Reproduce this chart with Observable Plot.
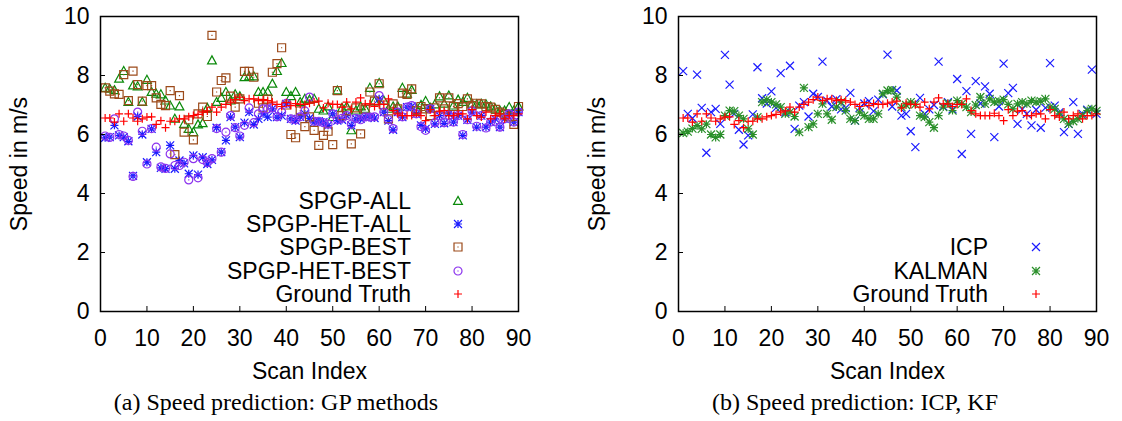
<!DOCTYPE html>
<html>
<head>
<meta charset="utf-8">
<script src="https://cdn.jsdelivr.net/npm/d3@7"></script>
<script src="https://cdn.jsdelivr.net/npm/@observablehq/plot@0.6"></script>
<style>
  body { margin: 0; background: #fff; width: 1122px; height: 421px; position: relative; overflow: hidden;
         font-family: "Liberation Sans", Arial, Helvetica, sans-serif; }
  .panel { position: absolute; top: 0; }
  .caption { position: absolute; font-family: "Liberation Serif", "Times New Roman", serif; font-size: 24px;
             white-space: nowrap; transform: translate(-50%, -50%); line-height: 1; }
  .lg-label { position: absolute; font-size: 23px; line-height: 1; white-space: nowrap; transform: translateY(-50%); }
  .lg-mark { position: absolute; overflow: visible; }
</style>
</head>
<body>
<script>
// Scan indices and speeds (m/s)
const scanIndex = d3.range(1, 91);

const groundTruth = [
  6.56, 6.56, 6.42, 6.70, 6.45, 6.70, 6.56, 6.45, 6.53, 6.59,
  6.60, 6.34, 6.47, 6.23, 6.45, 6.45, 6.53, 6.53, 6.60, 6.64,
  6.68, 6.76, 6.80, 6.93, 6.76, 6.93, 7.02, 7.10, 7.18, 7.27,
  7.15, 7.21, 7.21, 7.15, 7.18, 7.15, 7.10, 7.02, 6.95, 7.08,
  6.98, 7.05, 7.02, 7.02, 7.06, 7.10, 7.13, 6.90, 7.06, 7.02,
  7.02, 6.93, 7.10, 6.87, 7.10, 7.24, 7.04, 7.04, 6.95, 7.02,
  7.02, 7.21, 6.81, 6.70, 6.64, 6.64, 6.64, 6.72, 6.64, 6.47,
  6.84, 6.64, 6.79, 6.81, 6.64, 6.64, 6.70, 6.70, 6.53, 6.84,
  6.64, 6.59, 6.76, 6.53, 6.64, 6.70, 6.53, 6.64, 6.64, 6.70
];

const spgpAll = [
  7.58, 7.55, 7.50, 7.89, 8.15, 7.10, 7.66, 7.63, 7.10, 7.85,
  7.44, 7.38, 7.36, 7.15, 6.98, 6.53, 6.95, 6.36, 6.19, 6.08,
  6.34, 6.38, 6.90, 8.51, 7.10, 7.24, 7.44, 7.15, 7.36, 7.29,
  7.94, 7.97, 7.97, 7.44, 7.44, 7.44, 7.72, 8.15, 8.42, 7.44,
  7.30, 7.44, 7.10, 7.21, 7.18, 7.21, 6.87, 6.81, 6.95, 6.59,
  7.49, 6.90, 6.95, 6.14, 6.81, 6.95, 6.87, 7.58, 7.13, 7.74,
  7.15, 6.87, 6.95, 6.95, 7.58, 7.38, 7.51, 6.87, 7.00, 7.13,
  6.90, 7.02, 7.29, 7.04, 7.32, 6.98, 7.18, 7.10, 7.24, 7.04,
  7.02, 7.04, 7.02, 6.95, 6.87, 6.81, 6.81, 6.93, 6.81, 6.95
];

const spgpHetAll = [
  5.89, 5.91, 6.31, 5.97, 5.91, 5.77, 4.60, 6.61, 6.00, 5.06,
  6.19, 5.40, 4.87, 4.84, 5.63, 4.84, 5.12, 5.02, 4.67, 5.29,
  4.64, 5.23, 5.00, 5.14, 6.23, 5.40, 5.80, 6.59, 6.25, 5.91,
  6.40, 6.76, 6.34, 6.53, 6.70, 6.59, 6.87, 6.59, 6.64, 7.04,
  6.53, 6.47, 6.60, 6.70, 6.55, 6.42, 6.45, 6.42, 6.31, 6.70,
  6.47, 6.50, 6.64, 6.31, 6.53, 6.53, 6.59, 6.59, 6.56, 7.21,
  6.76, 6.47, 6.16, 6.76, 6.59, 6.93, 6.95, 6.70, 6.31, 6.19,
  6.87, 6.36, 6.64, 6.38, 6.70, 6.42, 6.64, 5.97, 6.50, 6.76,
  6.25, 6.64, 6.25, 6.42, 6.53, 6.25, 6.53, 6.70, 6.42, 6.76
];

const spgpBest = [
  7.58, 7.47, 7.38, 7.36, 8.03, 7.15, 8.15, 7.69, 7.13, 7.66,
  7.66, 7.24, 7.02, 6.98, 7.49, 5.32, 7.32, 6.08, 6.50, 5.82,
  6.70, 6.93, 6.61, 9.36, 7.44, 7.83, 7.92, 7.30, 6.93, 7.21,
  8.14, 8.14, 7.94, 7.06, 6.90, 7.20, 8.11, 8.40, 8.94, 7.00,
  6.00, 5.89, 6.80, 6.27, 6.60, 6.14, 5.63, 5.97, 6.11, 5.66,
  7.49, 6.64, 6.80, 5.68, 6.90, 6.02, 6.85, 7.44, 7.13, 7.72,
  7.00, 6.53, 7.04, 6.87, 7.40, 7.36, 7.55, 6.81, 6.95, 6.87,
  6.64, 6.90, 7.24, 6.87, 7.24, 6.95, 7.05, 6.95, 7.21, 6.98,
  7.06, 7.04, 6.95, 6.93, 6.85, 6.76, 6.70, 6.60, 6.34, 6.95
];

const spgpHetBest = [
  5.95, 5.90, 6.53, 6.00, 5.95, 5.80, 4.58, 6.76, 6.11, 5.00,
  6.20, 5.57, 4.90, 4.85, 5.34, 4.95, 4.95, 5.06, 4.46, 5.18,
  4.53, 5.15, 5.05, 5.18, 6.20, 5.40, 6.08, 6.64, 6.23, 5.95,
  6.31, 6.90, 6.40, 6.70, 6.87, 6.87, 6.90, 6.60, 6.76, 7.06,
  6.53, 6.50, 6.60, 6.80, 7.27, 6.45, 6.45, 6.40, 6.35, 6.70,
  6.50, 6.55, 6.64, 6.35, 6.55, 6.50, 6.60, 6.59, 6.60, 7.32,
  6.76, 6.50, 6.20, 6.76, 6.60, 6.93, 6.98, 6.70, 6.27, 6.14,
  6.87, 6.40, 6.64, 6.40, 6.65, 6.42, 6.64, 6.00, 6.50, 6.80,
  6.28, 6.64, 6.22, 6.42, 6.45, 6.25, 6.53, 6.70, 6.42, 6.76
];

const icp = [
  8.15, 6.70, 6.55, 8.03, 6.90, 5.38, 6.76, 6.87, 6.36, 8.70,
  7.69, 6.70, 6.16, 5.66, 5.97, 6.68, 8.28, 7.23, 7.05, 7.46,
  6.90, 8.08, 6.75, 8.33, 6.19, 6.98, 7.10, 6.61, 7.38, 7.27,
  8.47, 7.15, 6.95, 7.20, 6.85, 6.90, 7.41, 6.47, 6.90, 7.05,
  7.13, 6.79, 7.18, 7.36, 8.71, 6.95, 7.49, 6.64, 6.70, 6.11,
  5.57, 7.24, 6.70, 6.85, 7.00, 8.47, 6.95, 7.10, 6.85, 7.88,
  5.34, 7.47, 6.02, 7.81, 7.05, 7.63, 7.38, 5.91, 6.95, 8.40,
  7.40, 7.58, 6.36, 6.85, 6.70, 6.31, 6.84, 6.23, 6.90, 8.42,
  6.98, 6.75, 6.08, 6.36, 7.10, 6.02, 6.70, 6.84, 8.20, 6.70
];

const kalman = [
  6.05, 6.10, 6.20, 6.30, 6.19, 6.35, 6.00, 5.90, 6.00, 6.64,
  6.81, 6.79, 6.64, 6.53, 6.19, 6.00, 6.59, 7.10, 7.18, 7.10,
  7.02, 6.93, 6.70, 6.76, 6.61, 6.08, 7.58, 6.25, 6.36, 6.70,
  7.04, 6.70, 6.50, 6.93, 7.10, 6.81, 6.53, 6.47, 6.76, 6.64,
  6.53, 6.53, 6.70, 7.38, 7.49, 7.51, 7.27, 6.93, 7.00, 7.10,
  7.02, 6.64, 6.59, 6.42, 6.23, 6.64, 6.93, 7.06, 6.81, 7.15,
  7.04, 6.93, 6.76, 7.00, 7.27, 7.04, 7.21, 7.10, 7.13, 7.18,
  7.02, 6.87, 7.04, 7.10, 7.04, 7.15, 7.10, 7.13, 7.21, 6.93,
  6.87, 6.70, 6.53, 6.36, 6.45, 6.53, 6.64, 6.81, 6.87, 6.80
];

const xTicks = [0, 10, 20, 30, 40, 50, 60, 70, 80, 90];
const yTicks = [0, 2, 4, 6, 8, 10];

// gnuplot-style point symbols; r is the half-size in pixels
const half = size => Math.sqrt(size / Math.PI);
const dotAt = ctx => { ctx.moveTo(-0.6, 0); ctx.lineTo(0.6, 0); };
const gpPlus = { draw(ctx, size) { const r = half(size);
  ctx.moveTo(-r, 0); ctx.lineTo(r, 0); ctx.moveTo(0, -r); ctx.lineTo(0, r); } };
const gpTimes = { draw(ctx, size) { const r = half(size);
  ctx.moveTo(-r, -r); ctx.lineTo(r, r); ctx.moveTo(-r, r); ctx.lineTo(r, -r); } };
const gpStar = { draw(ctx, size) { const r = half(size);
  ctx.moveTo(-r, 0); ctx.lineTo(r, 0); ctx.moveTo(0, -r); ctx.lineTo(0, r);
  ctx.moveTo(-r, -r); ctx.lineTo(r, r); ctx.moveTo(-r, r); ctx.lineTo(r, -r); } };
const gpBox = { draw(ctx, size) { const r = half(size);
  ctx.rect(-r, -r, 2 * r, 2 * r); dotAt(ctx); } };
const gpCircle = { draw(ctx, size) { const r = half(size);
  ctx.moveTo(r, 0); ctx.arc(0, 0, r, 0, 2 * Math.PI); dotAt(ctx); } };
const gpTriangle = { draw(ctx, size) { const r = half(size);
  ctx.moveTo(0, -1.15 * r); ctx.lineTo(1.1 * r, 0.85 * r); ctx.lineTo(-1.1 * r, 0.85 * r); ctx.closePath(); } };

const leftSeries = [
  { label: "SPGP-ALL", values: spgpAll, symbol: gpTriangle, color: "#0a8a0a" },
  { label: "SPGP-HET-ALL", values: spgpHetAll, symbol: gpStar, color: "#1a1aff" },
  { label: "SPGP-BEST", values: spgpBest, symbol: gpBox, color: "#9c4a1a" },
  { label: "SPGP-HET-BEST", values: spgpHetBest, symbol: gpCircle, color: "#8c33ee" },
  { label: "Ground Truth", values: groundTruth, symbol: gpPlus, color: "#ff0000" }
];
const rightSeries = [
  { label: "ICP", values: icp, symbol: gpTimes, color: "#1a1aff" },
  { label: "KALMAN", values: kalman, symbol: gpStar, color: "#2a8f2a" },
  { label: "Ground Truth", values: groundTruth, symbol: gpPlus, color: "#ff0000" }
];

const W = 561, H = 385, MT = 16, MB = 74;
const R = 4;

function panel(series, marginLeft, marginRight) {
  const frameW = W - marginLeft - marginRight, frameH = H - MT - MB;
  return Plot.plot({
    width: W, height: H,
    marginLeft, marginRight, marginTop: MT, marginBottom: MB,
    style: { fontFamily: '"Liberation Sans", Arial, sans-serif', fontSize: "23px", color: "black", background: "white", overflow: "visible" },
    x: { domain: [0, 90] },
    y: { domain: [0, 10] },
    marks: [
      ...series.map(s => Plot.dot(scanIndex.map((x, i) => ({ x, y: s.values[i] })),
        { x: "x", y: "y", symbol: s.symbol, r: R, fill: "none", stroke: s.color, strokeWidth: 1.2 })),
      Plot.tickX(xTicks, { x: d => d, insetTop: frameH - 5, stroke: "black", strokeWidth: 1 }),
      Plot.tickY(yTicks, { y: d => d, insetRight: frameW - 5, stroke: "black", strokeWidth: 1 }),
      Plot.axisX({ ticks: xTicks, tickSize: 0, tickPadding: 18, label: "Scan Index",
        labelAnchor: "center", labelOffset: 67, labelArrow: "none" }),
      Plot.axisY({ ticks: yTicks, tickSize: 0, tickPadding: 11, label: "Speed in m/s",
        labelAnchor: "center", labelOffset: 90, labelArrow: "none" }),
      Plot.frame({ stroke: "black", strokeWidth: 1.5 })
    ]
  });
}

function addPanel(series, left, marginLeft, marginRight) {
  const el = panel(series, marginLeft, marginRight);
  el.classList.add("panel");
  el.style.left = left + "px";
  document.body.appendChild(el);
}

function addLegend(series, labelRight, markX, y0) {
  series.forEach((s, i) => {
    const cy = y0 + i * 23.3;
    const lab = document.createElement("div");
    lab.className = "lg-label";
    lab.textContent = s.label;
    lab.style.right = (1122 - labelRight) + "px";
    lab.style.top = cy + "px";
    document.body.appendChild(lab);
    const svg = d3.create("svg").attr("class", "lg-mark").attr("width", 16).attr("height", 16)
      .style("left", (markX - 8) + "px").style("top", (cy - 8) + "px");
    svg.append("path").attr("transform", "translate(8,8)")
      .attr("d", d3.symbol(s.symbol, Math.PI * R * R)())
      .attr("fill", "none").attr("stroke", s.color).attr("stroke-width", 1.2);
    document.body.appendChild(svg.node());
  });
}

function addCaption(text, cx, cy) {
  const c = document.createElement("div");
  c.className = "caption";
  c.textContent = text;
  c.style.left = cx + "px";
  c.style.top = cy + "px";
  document.body.appendChild(c);
}

addPanel(leftSeries, 0, 100, 43);
addPanel(rightSeries, 561, 117, 26);
addLegend(leftSeries, 411, 458, 200.7);
addLegend(rightSeries, 988, 1036, 247.3);
addCaption("(a) Speed prediction: GP methods", 276, 402);
addCaption("(b) Speed prediction: ICP, KF", 855, 402);
</script>
</body>
</html>
